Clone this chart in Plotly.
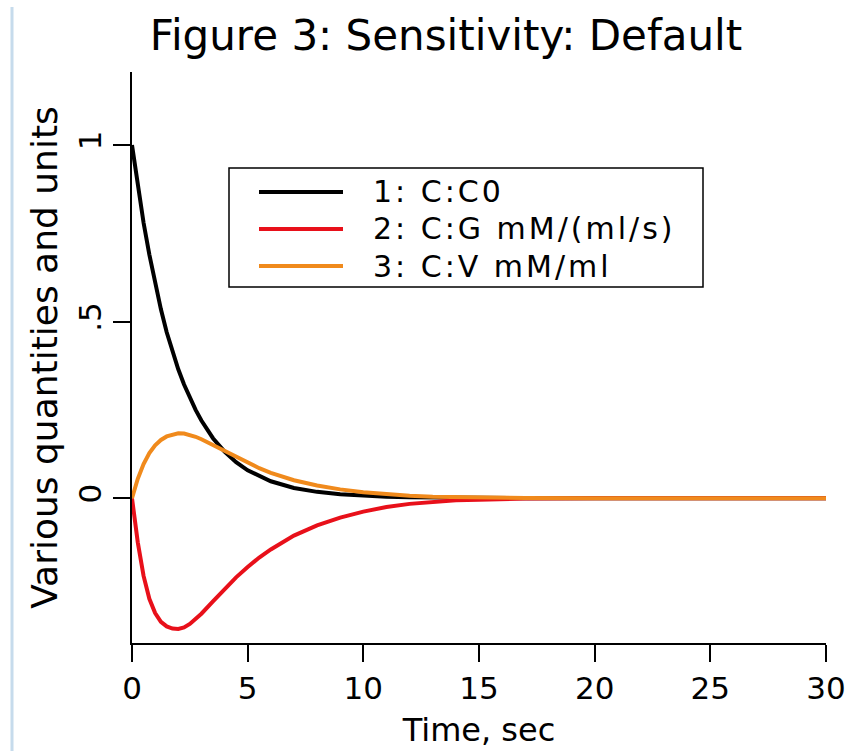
import plotly.graph_objects as go

time_s = [0, 0.25, 0.5, 0.75, 1, 1.25, 1.5, 1.75, 2, 2.25, 2.5, 2.75, 3, 3.5, 4, 4.5, 5, 5.5,
          6, 7, 8, 9, 10, 11, 12, 13, 14, 15, 17, 20, 25, 30]

c0 = [1.0, 0.88, 0.78, 0.69, 0.61, 0.535, 0.47, 0.415, 0.365, 0.322, 0.285, 0.25, 0.22, 0.17,
      0.132, 0.102, 0.079, 0.062, 0.048, 0.029, 0.018, 0.011, 0.007, 0.004, 0.0025, 0.0015,
      0.001, 0.0005, 0.0002, 0.0, 0.0, 0.0]
c_g = [0.0, -0.125, -0.22, -0.285, -0.325, -0.35, -0.363, -0.369, -0.37, -0.366, -0.356,
       -0.343, -0.327, -0.292, -0.257, -0.224, -0.195, -0.168, -0.145, -0.106, -0.077, -0.055,
       -0.038, -0.025, -0.016, -0.01, -0.006, -0.004, -0.001, 0.0, 0.0, 0.0]
c_v = [0.0, 0.055, 0.097, 0.128, 0.15, 0.165, 0.175, 0.181, 0.184, 0.183, 0.179, 0.174, 0.167,
       0.151, 0.134, 0.116, 0.1, 0.085, 0.072, 0.051, 0.036, 0.025, 0.017, 0.011, 0.007, 0.0045,
       0.003, 0.002, 0.0008, 0.0002, 0.0, 0.0]

series_names = ["1: C:C0", "2: C:G mM/(ml/s)", "3: C:V mM/ml"]
series_colors = ["#000000", "#e8101a", "#f08a1c"]
series_values = [c0, c_g, c_v]

x_ticks = [0, 5, 10, 15, 20, 25, 30]
y_ticks = [0, 0.5, 1]
y_tick_labels = ["0", ".5", "1"]

FONT = "DejaVu Sans"

# plot area in page px: x 132..826, y 72..643 (body margin removed below)
FIG_W, FIG_H = 855, 751
PX0, PX1, PY0, PY1 = 132, 826, 72, 643


def px(xp):
    return (xp - PX0) / (PX1 - PX0)


def py(yp):
    return (PY1 - yp) / (PY1 - PY0)


def cy(yp):
    return 1 - yp / FIG_H


fig = go.Figure()
for name, color, vals in zip(series_names, series_colors, series_values):
    fig.add_trace(go.Scatter(x=time_s, y=vals, mode="lines", name=name,
                             line=dict(color=color, width=4), showlegend=False))

# legend drawn as box + line samples + labels (paper coordinates)
shapes = [
    dict(type="line", xref="paper", yref="paper", x0=px(12), x1=px(12), y0=py(760), y1=py(7),
         line=dict(color="#c6dbec", width=3)),
    dict(type="rect", xref="paper", yref="paper", x0=px(229), x1=px(703), y0=py(287), y1=py(168),
         line=dict(color="black", width=1.5), fillcolor="white", layer="above"),
]
annotations = []
row_y = [192, 229, 266]
for name, color, ry in zip(series_names, series_colors, row_y):
    shapes.append(dict(type="line", xref="paper", yref="paper", x0=px(259), x1=px(343),
                       y0=py(ry), y1=py(ry), line=dict(color=color, width=4), layer="above"))
    annotations.append(dict(xref="paper", yref="paper", x=px(371), y=py(ry), xanchor="left",
                            yanchor="middle", showarrow=False,
                            text='<span style="letter-spacing:3px">%s</span>' % name,
                            font=dict(size=30, family=FONT, color="black")))

fig.update_layout(
    width=FIG_W, height=FIG_H,
    margin=dict(l=PX0, r=FIG_W - PX1, t=PY0, b=FIG_H - PY1),
    paper_bgcolor="white", plot_bgcolor="white",
    font=dict(family=FONT, color="black"),
    title=dict(text="Figure 3: Sensitivity: Default", font=dict(size=42, family=FONT),
               x=px(446), xref="paper", xanchor="center",
               y=cy(35), yref="container", yanchor="middle"),
    showlegend=False,
    xaxis=dict(range=[0, 30], tickvals=x_ticks, showgrid=False, zeroline=False,
               automargin=False,
               showline=True, linecolor="black", linewidth=1.5,
               ticks="outside", ticklen=17, tickwidth=1.5, tickcolor="black",
               tickfont=dict(size=31, family=FONT),
               title=dict(text="Time, sec", font=dict(size=32, family=FONT), standoff=14)),
    yaxis=dict(range=[-0.41, 1.207], tickvals=y_ticks, ticktext=y_tick_labels,
               automargin=False,
               showgrid=False, zeroline=False, showline=True, linecolor="black", linewidth=1.5,
               ticks="outside", ticklen=17, tickwidth=1.5, tickcolor="black",
               tickangle=-90, tickfont=dict(size=31, family=FONT),
               title=dict(text="Various quantities and units", font=dict(size=36, family=FONT),
                          standoff=3)),
    shapes=shapes,
    annotations=annotations,
)

fig.write_html("out.html", config={"displayModeBar": False},
               post_script="document.body.style.margin='0';")
